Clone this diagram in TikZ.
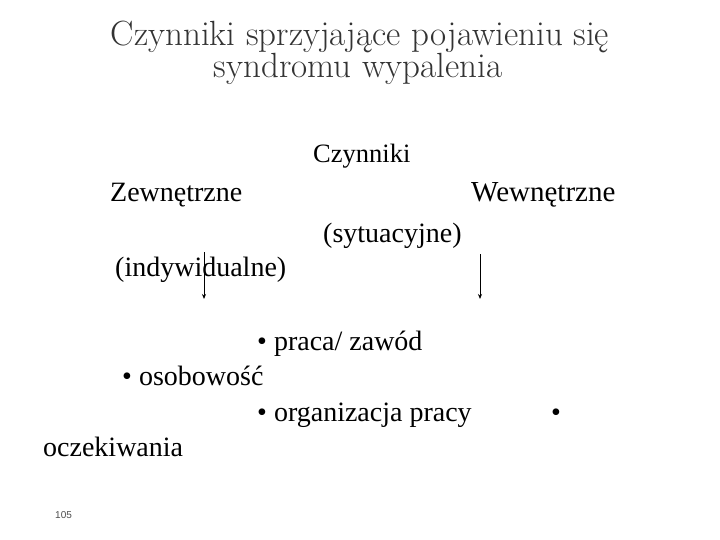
\documentclass[tikz,border=0pt]{standalone}
\usepackage{fontspec}
\setmainfont{Liberation Serif}
\newfontfamily\numfont{Liberation Sans}
\usetikzlibrary{arrows.meta}
\tikzset{
  titletxt/.style={font=\fontfamily{lmr}\selectfont\fontsize{35}{40}\selectfont, text=black!80, inner sep=0pt, anchor=base},
  bodytxt/.style={font=\rmfamily\fontsize{28}{32}\selectfont, inner sep=0pt, anchor=base west},
  arr/.style={line width=0.8pt, -{Stealth[length=5pt,width=4pt]}}
}
\begin{document}
\begin{tikzpicture}[x=1pt,y=-1pt]
\useasboundingbox (0,0) rectangle (720,540);
\node[titletxt] (t1) at (360,46) {Czynniki sprzyjające pojawieniu się};
\node[titletxt] (t2) at (358,78) {syndromu wypalenia};
\node[bodytxt, font=\rmfamily\fontsize{26.5}{30}\selectfont] (cz) at (313,163) {Czynniki};
\node[bodytxt] (ze) at (110,202) {Zewnętrzne};
\node[bodytxt, font=\rmfamily\fontsize{29}{32}\selectfont] (we) at (471,202) {Wewnętrzne};
\node[bodytxt] (sy) at (323,242) {(sytuacyjne)};
\node[bodytxt] (in) at (115,276) {(indywidualne)};
\coordinate (a1s) at (204,252);
\coordinate (a1e) at (204,299);
\coordinate (a2s) at (480,254);
\coordinate (a2e) at (480,299);
\draw[arr] (a1s) -- (a1e);
\draw[arr] (a2s) -- (a2e);
\node[bodytxt] (pr) at (257,350) {• praca/ zawód};
\node[bodytxt] (os) at (122,385) {• osobowość};
\node[bodytxt] (or) at (257,421) {• organizacja pracy};
\node[bodytxt] (bu) at (551,421) {•};
\node[bodytxt] (oc) at (43,456) {oczekiwania};
\node[font=\numfont\fontsize{10}{12}\selectfont, text=black!70, inner sep=0pt, anchor=base west] (num) at (55,518) {105};
\end{tikzpicture}
\end{document}
